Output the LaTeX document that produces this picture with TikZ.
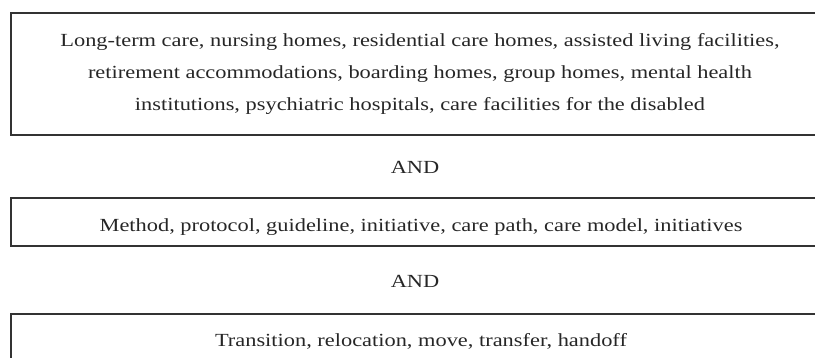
\documentclass[tikz,border=0pt]{standalone}
\usepackage{fontspec}
\setmainfont[FakeStretch=1.21]{Liberation Serif}
\begin{document}
\begin{tikzpicture}[x=1pt,y=-1pt,
  boxline/.style={draw=black!80, line width=1.3pt},
  lbl/.style={font=\fontsize{18.5}{32}\selectfont, text=black!85, anchor=base, inner sep=0pt}]
\useasboundingbox (0,0) rectangle (815,358);
\clip (0,0) rectangle (815,358);
\draw[boxline] (11,13) rectangle (830,135);
\node[lbl] (t1) at (420,47) {Long-term care, nursing homes, residential care homes, assisted living facilities,};
\node[lbl] (t2) at (420,79) {retirement accommodations, boarding homes, group homes, mental health};
\node[lbl] (t3) at (420,111) {institutions, psychiatric hospitals, care facilities for the disabled};
\node[lbl] (and1) at (415,173.5) {AND};
\draw[boxline] (11,198) rectangle (830,246);
\node[lbl] (t4) at (421,232) {Method, protocol, guideline, initiative, care path, care model, initiatives};
\node[lbl] (and2) at (415,288) {AND};
\draw[boxline] (11,314) rectangle (830,380);
\node[lbl] (t5) at (421,346.5) {Transition, relocation, move, transfer, handoff};
\end{tikzpicture}
\end{document}
